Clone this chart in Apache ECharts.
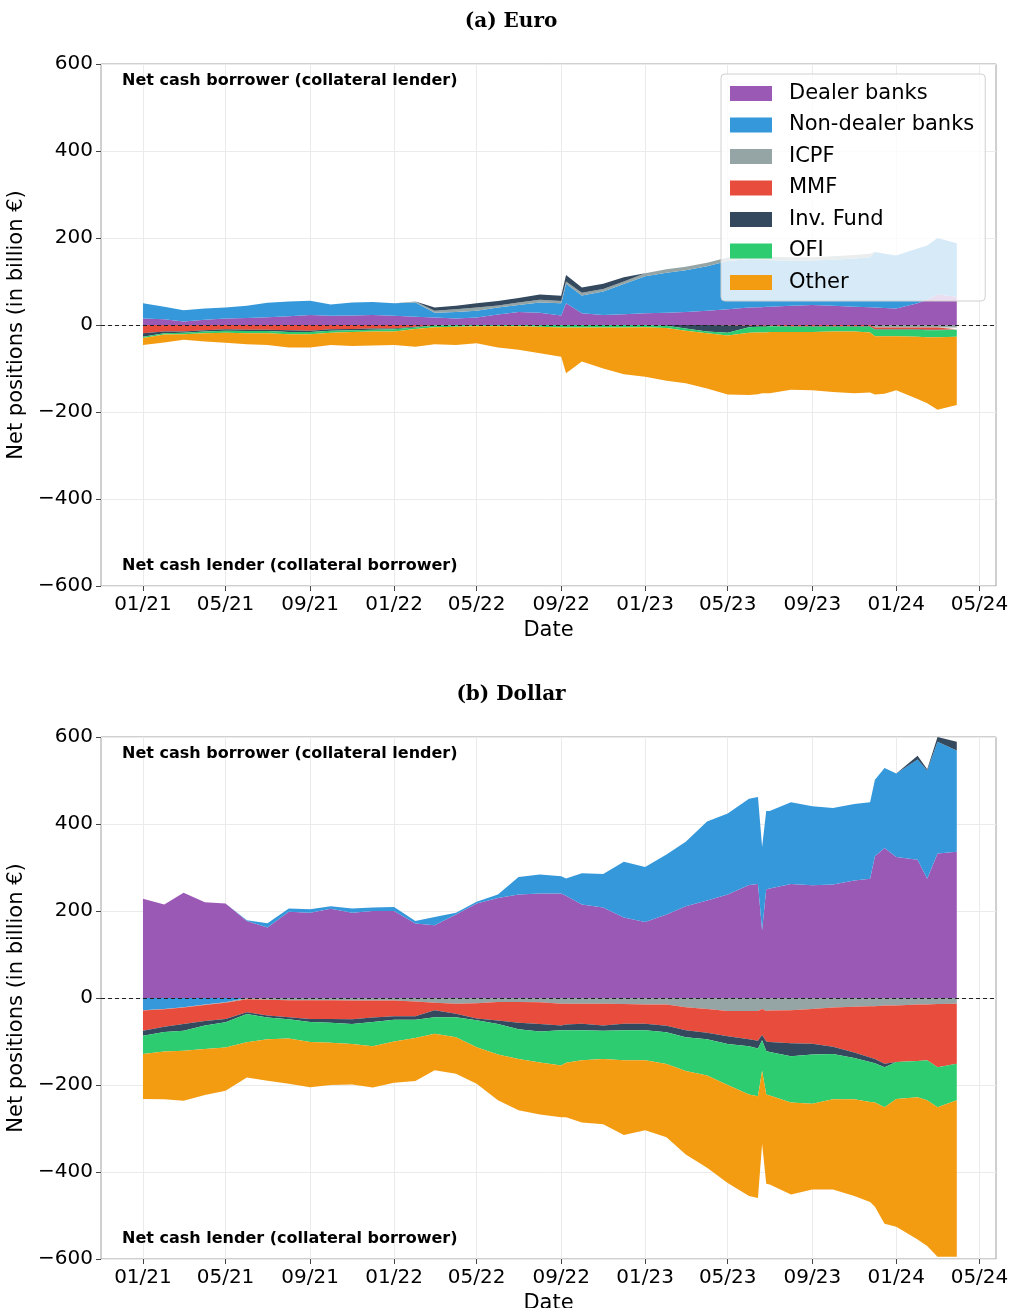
<!DOCTYPE html>
<html><head><meta charset="utf-8">
<script src="https://cdn.jsdelivr.net/npm/echarts@6/dist/echarts.min.js"></script>
<style>html,body{margin:0;padding:0;background:#fff}#main{width:1010px;height:1308px}</style>
</head><body><div id="main"></div>
<script>
// ---------------- DATA ----------------
const dates = ['2021-01-01','2021-02-01','2021-03-01','2021-04-01','2021-05-01','2021-06-01','2021-07-01','2021-08-01','2021-09-01','2021-10-01','2021-11-01','2021-12-01',
'2022-01-01','2022-02-01','2022-03-01','2022-04-01','2022-05-01','2022-06-01','2022-07-01','2022-08-01','2022-09-01','2022-09-08','2022-10-01','2022-11-01','2022-12-01',
'2023-01-01','2023-02-01','2023-03-01','2023-04-01','2023-05-01','2023-06-01','2023-06-14','2023-06-20','2023-06-26','2023-07-01','2023-08-01','2023-09-01','2023-10-01','2023-11-01','2023-11-24','2023-12-01','2023-12-15',
'2024-01-01','2024-02-01','2024-02-15','2024-03-01','2024-03-29'];

const seriesNames = ['Dealer banks','Non-dealer banks','ICPF','MMF','Inv. Fund','OFI','Other'];
const tickDates = ['2021-01-01','2021-05-01','2021-09-01','2022-01-01','2022-05-01','2022-09-01','2023-01-01','2023-05-01','2023-09-01','2024-01-01','2024-05-01'];

// (a) Euro
const eDealer    = [15,13,8,12,15,16,18,20,23,21,22,23, 21,19,17,15,17,24,30,28,22,50,27,23,25, 27,28,30,33,36,40,41,41,42,42,44,46,44,42,41,40,39, 38,50,58,70,65];
const eNonDealer = [35,29,26,26,25,28,33,34,33,26,30,30, 29,33,11,15,16,16,16,24,28,45,41,54,69, 85,92,96,102,111,111,110,108,108,107,104,102,106,111,115,128,125, 122,126,125,130,123];
const eICPF      = [0,0,0,0,0,0,0,0,0,0,0,0, 0,2,5,6,7,5,6,6,5,5,6,6,6, 7,8,8,8,8,8,8,8,8,8,8,8,8,8,8,-6,-6, -6,-6,-6,-6,-6];
const eMMF       = [-19,-15,-15,-12,-10,-11,-11,-12,-13,-10,-9,-8, -8,-4,-1,0,0,0,0,0,0,0,0,0,0, 0,0,0,0,-1,-2,-2,-2,-2,-2,-3,-3,-3,-3,-3,-4,-4, -4,-4,-5,-5,-4];
const eInvFund   = [-8,-4,-3,-3,-3,-3,-3,-4,-3,-3,-3,-3, -2,-2,7,8,10,10,10,12,12,15,12,12,10, 0,-2,-8,-15,-17,-3,-2,-2,-2,-1,-1,-1,-1,-1,-1,-1,-1, -1,-1,-1,-1,-1];
const eOFI       = [-3,-3,-3,-4,-5,-5,-5,-5,-5,-5,-4,-4, -5,-3,-4,-4,-3,-3,-3,-4,-6,-6,-6,-6,-6, -5,-5,-5,-4,-6,-13,-13,-13,-13,-13,-12,-12,-11,-11,-13,-15,-15, -15,-16,-16,-16,-16];
const eOther     = [-16,-18,-13,-19,-23,-25,-27,-31,-31,-28,-32,-32, -31,-41,-39,-42,-39,-49,-54,-61,-67,-105,-78,-94,-107, -114,-121,-121,-127,-136,-143,-142,-140,-140,-141,-133,-134,-139,-142,-138,-134,-132, -124,-143,-152,-167,-157];

// (b) Dollar
const uDealer    = [228,215,242,220,217,177,162,198,196,205,196,200, 200,171,167,192,217,230,238,240,240,235,215,208,185, 175,192,211,224,238,260,262,156,250,252,262,259,261,270,274,326,345, 324,318,274,332,336];
const uNonDealer = [-28,-25,-21,-15,-10,2,10,8,8,6,10,8, 9,6,19,4,4,8,40,44,40,40,72,77,128, 126,138,148,182,186,198,200,191,180,178,188,182,176,176,176,176,184, 192,230,249,257,233];
const uICPF      = [-1,-1,-1,-1,-1,-3,-4,-5,-5,-5,-6,-6, -6,-8,-11,-13,-12,-9,-9,-10,-13,-13,-13,-13,-14, -15,-15,-21,-25,-30,-30,-30,-25,-30,-29,-28,-25,-22,-20,-19,-19,-17, -17,-15,-15,-14,-13];
const uMMF       = [-46,-40,-38,-37,-37,-30,-36,-39,-43,-43,-43,-39, -36,-34,-17,-23,-35,-43,-48,-50,-50,-48,-46,-50,-45, -44,-49,-53,-55,-58,-65,-68,-60,-70,-72,-76,-80,-90,-105,-118,-121,-134, -130,-130,-128,-145,-138];
const uInvFund   = [-12,-12,-15,-10,-8,-4,-5,-5,-7,-9,-11,-10, -8,-8,-16,-8,-4,-8,-15,-17,-11,-13,-15,-12,-15, -15,-15,-16,-15,-18,-16,-18,-12,-22,-23,-30,-25,-17,-13,-10,-10,-8, 0,9,3,11,20];
const uOFI       = [-42,-45,-46,-54,-58,-65,-50,-44,-46,-46,-46,-56, -50,-42,-38,-46,-62,-70,-68,-71,-81,-75,-69,-65,-69, -69,-73,-78,-83,-94,-111,-110,-70,-100,-100,-106,-113,-104,-95,-92,-90,-92, -85,-83,-92,-92,-84];
const uOther     = [-103,-110,-115,-106,-99,-81,-95,-104,-104,-97,-93,-95, -95,-99,-84,-84,-84,-105,-118,-120,-119,-125,-143,-150,-172, -161,-168,-192,-212,-225,-233,-234,-168,-205,-205,-212,-197,-207,-222,-230,-240,-268, -294,-327,-335,-344,-360];

// ---------------- CHART ----------------
const colors = ['#9b59b6','#3498db','#95a5a6','#e74c3c','#34495e','#2ecc71','#f39c12'];
const FONT = 'DejaVu Sans';
const toTs = s => { const p = s.split('-').map(Number); return Date.UTC(p[0], p[1]-1, p[2]); };
const xs = dates.map(toTs);
const tickTs = tickDates.map(toTs);
const xMin = toTs('2020-11-01'), xMax = toTs('2024-05-25');

const panelVals = [
  [eDealer, eNonDealer, eICPF, eMMF, eInvFund, eOFI, eOther],
  [uDealer, uNonDealer, uICPF, uMMF, uInvFund, uOFI, uOther]
];
const gridTops = [64, 737];
const plotH = 522;

const series = [];
panelVals.forEach((vals, p) => {
  vals.forEach((arr, k) => {
    ['pos','neg'].forEach(sign => {
      series.push({
        type: 'line', name: seriesNames[k], xAxisIndex: 2 * p, yAxisIndex: p,
        stack: sign + p, stackStrategy: 'all',
        symbol: 'none', showSymbol: false, silent: true,
        lineStyle: { width: 0 },
        itemStyle: { color: colors[k] },
        areaStyle: { color: colors[k], opacity: 1 },
        data: arr.map((v, i) => [xs[i], sign === 'pos' ? Math.max(v, 0) : Math.min(v, 0)])
      });
    });
  });
  series[series.length - 1].markLine = {
    silent: true, symbol: 'none', label: { show: false },
    lineStyle: { color: '#222', type: [4, 3], width: 1 },
    data: [{ yAxis: 0 }]
  };
});

const yFmt = v => v < 0 ? '\u2212' + Math.abs(v) : String(v);
const xFmt = v => { const d = new Date(v); return String(d.getUTCMonth()+1).padStart(2,'0') + '/' + String(d.getUTCFullYear() % 100).padStart(2,'0'); };

const grids = gridTops.map(t => ({
  left: 101, width: 895, top: t, height: plotH, show: true,
  borderColor: '#a0a0a0', borderWidth: 1, backgroundColor: 'transparent',
  containLabel: false, outerBoundsMode: 'none'
}));

const xAxes = [];
gridTops.forEach((t, p) => {
  // time axis used by the data
  xAxes.push({
    type: 'time', gridIndex: p, min: xMin, max: xMax, position: 'top',
    axisLine: { show: false }, axisTick: { show: false }, axisLabel: { show: false }, splitLine: { show: false }
  });
  // value axis (same extent) carrying the 4-monthly ticks, labels and grid lines
  xAxes.push({
    type: 'value', gridIndex: p, min: xMin, max: xMax, position: 'bottom',
    name: 'Date', nameLocation: 'middle', nameGap: 34,
    nameTextStyle: { fontSize: 21, fontFamily: FONT, color: '#000' },
    axisLine: { show: false },
    axisTick: { show: true, customValues: tickTs, length: 5, lineStyle: { color: '#444' } },
    axisLabel: { customValues: tickTs, formatter: xFmt, fontSize: 20, margin: 9, color: '#000', fontFamily: FONT },
    splitLine: { show: true, lineStyle: { color: '#ebebeb', width: 1 } }
  });
});

const yAxes = gridTops.map((t, p) => ({
  type: 'value', gridIndex: p, min: -600, max: 600, interval: 200,
  name: 'Net positions (in billion \u20ac)', nameLocation: 'middle', nameGap: 63, nameRotate: 90,
  nameTextStyle: { fontSize: 21, fontFamily: FONT, color: '#000' },
  axisLine: { show: false },
  axisTick: { show: true, length: 5, lineStyle: { color: '#444' } },
  axisLabel: { formatter: yFmt, fontSize: 20, margin: 8, color: '#000', fontFamily: FONT },
  splitLine: { show: true, lineStyle: { color: '#ebebeb', width: 1 } }
}));

const txt = (x, y, text, font, align) => ({
  type: 'text', x: x, y: y, silent: true, z: 10,
  style: { text: text, font: font, fill: '#000', align: align || 'left', verticalAlign: 'middle' }
});
const annFont = 'bold 16px "DejaVu Sans"';
const graphic = [
  txt(511, 22, '(a) Euro', 'bold 20px "DejaVu Serif"', 'center'),
  txt(511, 695, '(b) Dollar', 'bold 20px "DejaVu Serif"', 'center'),
  txt(122, 81, 'Net cash borrower (collateral lender)', annFont),
  txt(122, 566, 'Net cash lender (collateral borrower)', annFont),
  txt(122, 754, 'Net cash borrower (collateral lender)', annFont),
  txt(122, 1239, 'Net cash lender (collateral borrower)', annFont)
];

const chart = echarts.init(document.getElementById('main'), null, { renderer: 'canvas' });
chart.setOption({
  animation: false,
  backgroundColor: '#fff',
  grid: grids,
  xAxis: xAxes,
  yAxis: yAxes,
  legend: {
    data: seriesNames, orient: 'vertical', left: 721, top: 74,
    icon: 'path://M0,0L42,0L42,15L0,15Z M54,0L54,15',
    itemWidth: 54, itemHeight: 15, itemGap: 10.5,
    padding: [9, 11, 8, 9],
    backgroundColor: 'rgba(255,255,255,0.8)', borderColor: '#d0d0d0', borderWidth: 1, borderRadius: 4,
    itemStyle: { borderWidth: 0 },
    textStyle: { fontSize: 21, lineHeight: 21, fontFamily: FONT, color: '#000' },
    selectedMode: false, z: 20
  },
  graphic: graphic,
  series: series
});
</script>
</body></html>
